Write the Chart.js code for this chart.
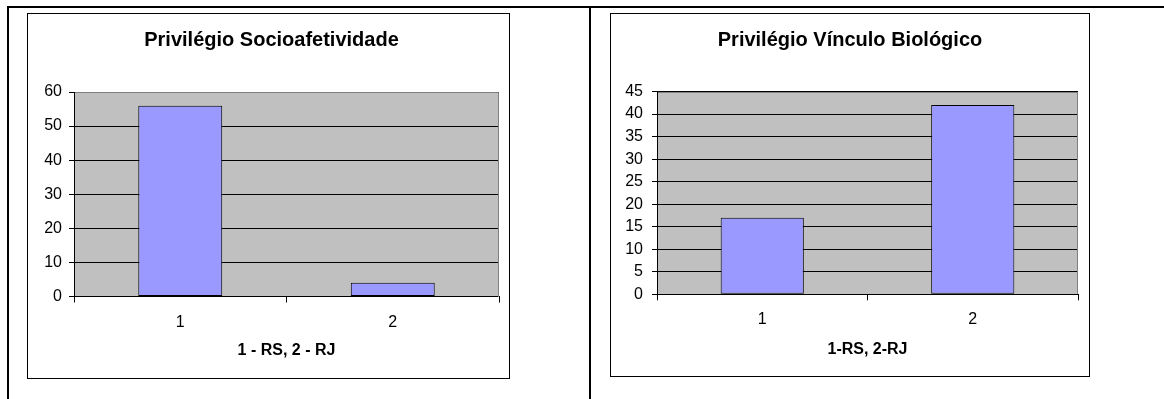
<!DOCTYPE html>
<html>
<head>
<meta charset="utf-8">
<script src="https://cdn.jsdelivr.net/npm/chart.js@4.4.0/dist/chart.umd.min.js"></script>
<style>
  html, body { margin: 0; padding: 0; background: #fff; }
  body { position: relative; width: 1164px; height: 399px; overflow: hidden; }
  .rule { position: absolute; background: #000; }
  .box { position: absolute; border: 1px solid #000; box-sizing: border-box; background: #fff; }
  .box canvas { display: block; }
</style>
</head>
<body>
<!-- table borders -->
<div class="rule" style="left:7px; top:6px; width:1157px; height:2px;"></div>
<div class="rule" style="left:7px; top:6px; width:2px; height:393px;"></div>
<div class="rule" style="left:589px; top:6px; width:2px; height:393px;"></div>

<div class="box" style="left:27px; top:13px; width:483px; height:366px;">
  <canvas id="chartSocio" width="481" height="364"></canvas>
</div>
<div class="box" style="left:610px; top:13px; width:480px; height:364px;">
  <canvas id="chartBio" width="478" height="362"></canvas>
</div>

<script>
// Data
const categories = ['1', '2'];
const socioValues = [56, 4];
const bioValues = [17, 42];
const socioTicks = [0, 10, 20, 30, 40, 50, 60];
const bioTicks = [0, 5, 10, 15, 20, 25, 30, 35, 40, 45];

const FONT = '"Liberation Sans", Arial, sans-serif';

// Excel-style plot area: grey fill, grey frame on top/right
const plotFrame = {
    id: 'plotFrame',
    beforeDraw(chart) {
        const { ctx, chartArea: a } = chart;
        ctx.save();
        ctx.fillStyle = '#C0C0C0';
        ctx.fillRect(a.left, a.top, a.right - a.left, a.bottom - a.top);
        ctx.restore();
    },
    beforeDatasetsDraw(chart) {
        const { ctx, chartArea: a } = chart;
        const top = Math.round(a.top) + 0.5;
        const right = Math.round(a.right) - 0.5;
        ctx.save();
        ctx.strokeStyle = '#808080';
        ctx.lineWidth = 1;
        ctx.beginPath();
        ctx.moveTo(Math.round(a.left) + 1, top);
        ctx.lineTo(right, top);
        ctx.lineTo(right, Math.round(a.bottom));
        ctx.stroke();
        ctx.restore();
    }
};

function buildConfig(opts) {
    return {
        type: 'bar',
        data: {
            labels: categories,
            datasets: [{
                data: opts.values,
                backgroundColor: '#9999FF',
                borderColor: '#000',
                borderWidth: 1,
                borderSkipped: false,
                categoryPercentage: 1,
                barPercentage: 0.395
            }]
        },
        options: {
            responsive: false,
            devicePixelRatio: 1,
            animation: false,
            layout: { padding: { left: opts.padLeft, right: opts.padRight, top: 0, bottom: 0 } },
            plugins: {
                legend: { display: false },
                tooltip: { enabled: false },
                title: {
                    display: true,
                    text: opts.title,
                    color: '#000',
                    font: { family: FONT, size: 20, weight: 'bold' },
                    padding: { top: 14, bottom: opts.titleBottom }
                }
            },
            scales: {
                x: {
                    grid: { display: true, drawOnChartArea: false, drawTicks: true, tickLength: 6, color: '#000', offset: true },
                    border: { display: true, color: '#000', width: 1 },
                    ticks: { color: '#000', font: { family: FONT, size: 16 }, padding: opts.xTickPad, maxRotation: 0 },
                    title: {
                        display: true,
                        text: opts.xTitle,
                        color: '#000',
                        font: { family: FONT, size: 16, weight: 'bold' },
                        padding: { top: 0, bottom: opts.xTitleBottom }
                    },
                    afterFit: (scale) => { scale.height = opts.xHeight; }
                },
                y: {
                    min: 0,
                    max: opts.ticks[opts.ticks.length - 1],
                    afterBuildTicks: (scale) => { scale.ticks = opts.ticks.map(v => ({ value: v })); },
                    grid: { color: '#000', lineWidth: 1, tickLength: 5, drawTicks: true },
                    border: { display: true, color: '#000', width: 1 },
                    ticks: { color: '#000', font: { family: FONT, size: 16 }, padding: opts.yTickPad },
                    afterFit: (scale) => { scale.width = opts.yWidth; }
                }
            }
        },
        plugins: [plotFrame]
    };
}

new Chart(document.getElementById('chartSocio'), buildConfig({
    title: 'Privilégio Socioafetividade',
    xTitle: '1 - RS, 2 - RJ',
    values: socioValues,
    ticks: socioTicks,
    padLeft: 16,
    padRight: 10,
    yWidth: 30,
    titleBottom: 40,
    xHeight: 81.5,
    xTickPad: 10,
    xTitleBottom: 17.4,
    yTickPad: 7
}));

new Chart(document.getElementById('chartBio'), buildConfig({
    title: 'Privilégio Vínculo Biológico',
    xTitle: '1-RS, 2-RJ',
    values: bioValues,
    ticks: bioTicks,
    padLeft: 11,
    padRight: 11,
    yWidth: 35,
    titleBottom: 39.5,
    xHeight: 81.7,
    xTickPad: 9.4,
    xTitleBottom: 16.4,
    yTickPad: 9
}));
</script>
</body>
</html>
